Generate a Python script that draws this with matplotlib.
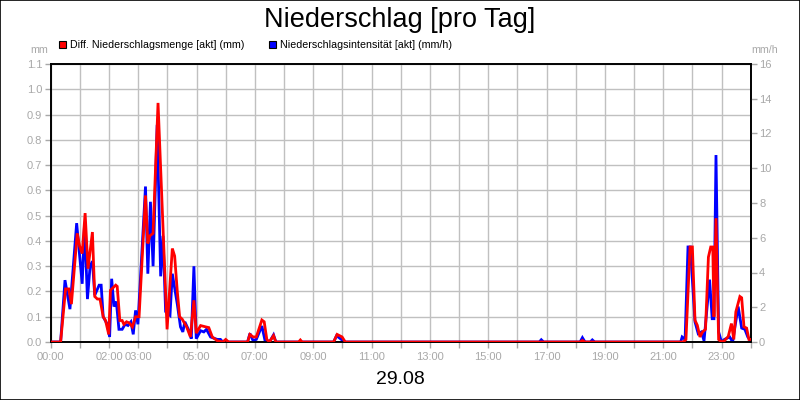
import matplotlib
matplotlib.use("Agg")
import matplotlib.pyplot as plt
from matplotlib.patches import Rectangle

plt.rcParams['font.family'] = ['Liberation Sans', 'DejaVu Sans']

# ---- data ----
red_t = [0, 0.34, 0.51, 0.62, 0.71, 0.91, 0.99, 1.08, 1.18, 1.28, 1.43, 1.51, 1.60, 1.69,
         1.80, 1.88, 1.99, 2.05, 2.23, 2.28, 2.37, 2.45, 2.51, 2.60, 2.70, 2.80, 2.91, 3.03,
         3.25, 3.33, 3.40, 3.51, 3.68, 3.99, 4.17, 4.25, 4.34, 4.42, 4.51, 4.66, 4.79, 4.91,
         4.99, 5.14, 5.31, 5.42, 5.54, 5.71, 5.90, 6.00, 6.10, 6.75, 6.83, 6.94, 7.05, 7.24,
         7.32, 7.41, 7.50, 7.64, 7.72, 8.50, 8.56, 8.62, 9.70, 9.82, 9.99, 10.10, 18.15, 18.23,
         18.32, 21.69, 21.78, 21.92, 22.00, 22.09, 22.17, 22.26, 22.35, 22.45, 22.55, 22.63,
         22.70, 22.74, 22.81, 22.90, 23.00, 23.10, 23.23, 23.34, 23.42, 23.49, 23.63, 23.69,
         23.77, 23.86, 23.94, 24.0]
red_mm = [0, 0, 0.21, 0.21, 0.15, 0.43, 0.38, 0.35, 0.51, 0.29, 0.435, 0.18, 0.17, 0.17,
          0.10, 0.085, 0.03, 0.205, 0.225, 0.22, 0.085, 0.085, 0.07, 0.08, 0.075, 0.06, 0.10, 0.10,
          0.58, 0.39, 0.42, 0.43, 0.946, 0.05, 0.37, 0.34, 0.20, 0.10, 0.09, 0.06, 0.02, 0.165,
          0.035, 0.065, 0.06, 0.057, 0.02, 0.005, 0, 0.01, 0, 0, 0.03, 0.02, 0.02, 0.087,
          0.08, 0.01, 0, 0.025, 0, 0, 0.008, 0, 0, 0.03, 0.02, 0, 0, 0.006,
          0, 0, 0.01, 0.376, 0.376, 0.086, 0.066, 0.02, 0.04, 0.05, 0.336, 0.376,
          0.376, 0.10, 0.49, 0.01, 0, 0.005, 0.022, 0.073, 0.01, 0.119, 0.18, 0.175,
          0.06, 0.055, 0.01, 0.01]

blue_t = [0, 0.34, 0.49, 0.66, 0.89, 1.08, 1.16, 1.26, 1.35, 1.43, 1.51, 1.66, 1.73, 1.80,
          1.94, 2.02, 2.09, 2.17, 2.25, 2.34, 2.45, 2.55, 2.65, 2.75, 2.83, 2.91, 2.99, 3.10,
          3.25, 3.33, 3.42, 3.51, 3.65, 3.77, 3.85, 3.94, 4.09, 4.17, 4.34, 4.45, 4.53, 4.60,
          4.74, 4.82, 4.91, 4.99, 5.14, 5.25, 5.34, 5.48, 5.71, 5.82, 5.90, 6.75, 6.83, 6.94,
          7.05, 7.24, 7.35, 7.50, 7.64, 7.72, 9.70, 9.80, 10.05, 10.10, 16.75, 16.82, 16.90,
          18.15, 18.23, 18.32, 18.50, 18.57, 18.65, 21.60, 21.65, 21.75, 21.85, 21.93, 22.09,
          22.20, 22.31, 22.40, 22.59, 22.68, 22.74, 22.81, 22.90, 23.00, 23.10, 23.28, 23.38,
          23.57, 23.69, 23.80, 23.90, 24.0]
blue_mmh = [0, 0, 3.56, 1.89, 6.84, 3.35, 6.84, 2.47, 4.36, 4.65, 2.69, 3.27, 3.27, 1.45,
            1.02, 0.29, 3.64, 2.04, 2.33, 0.73, 0.73, 1.02, 0.95, 1.16, 0.44, 1.82, 1.02, 4.36,
            8.95, 3.93, 8.07, 4.36, 12.5, 3.78, 6.11, 1.75, 1.53, 3.93, 2.18, 0.87, 0.58, 1.16,
            0.65, 0.19, 4.36, 0.19, 0.65, 0.58, 0.73, 0.29, 0.15, 0.15, 0, 0, 0.49, 0.07,
            0.15, 0.92, 0.07, 0, 0.41, 0, 0, 0.36, 0.04, 0, 0, 0.13, 0,
            0, 0.25, 0, 0, 0.12, 0, 0, 0.29, 0.15, 5.47, 5.47, 1.16,
            0.48, 0.58, 0.07, 3.59, 1.34, 1.34, 10.76, 0.58, 0, 0.15, 0.29, 0,
            2.04, 0.8, 0.73, 0.29, 0.07]

left_ticks = [0.0, 0.1, 0.2, 0.3, 0.4, 0.5, 0.6, 0.7, 0.8, 0.9, 1.0, 1.1]
right_ticks = [0, 2, 4, 6, 8, 10, 12, 14, 16]
hour_ticks = list(range(0, 25))
labelled_hours = [0, 2, 3, 5, 7, 9, 11, 13, 15, 17, 19, 21, 23]

title = "Niederschlag [pro Tag]"
label_red = "Diff. Niederschlagsmenge [akt] (mm)"
label_blue = "Niederschlagsintensität [akt] (mm/h)"
date_label = "29.08"

# ---- figure ----
GRAY = '#a8a8a8'
fig = plt.figure(figsize=(8, 4), dpi=100)
fig.patch.set_facecolor('white')
fig.patches.append(Rectangle((0.0006, 0.0012), 0.9988, 0.9976, transform=fig.transFigure,
                             fill=False, edgecolor='black', linewidth=1.2))

pos = [50.7 / 800, 58 / 400, 700 / 800, 278 / 400]
ax = fig.add_axes(pos)
ax.set_xlim(0, 24)
ax.set_ylim(0, 1.1)
ax.set_yticks(left_ticks)
ax.set_yticklabels([f"{v:.1f}" for v in left_ticks])
ax.set_xticks(hour_ticks)
ax.set_xticklabels([f"{h:02d}:00" if h in labelled_hours else "" for h in hour_ticks])
ax.grid(True, color='#c0c0c0', linewidth=1.0)
ax.set_axisbelow(True)
ax.tick_params(axis='both', colors=GRAY, labelcolor=GRAY, length=4, width=1,
               labelsize=8, pad=2)
ax.tick_params(axis='x', pad=3)
for s in ax.spines.values():
    s.set_color('black')
    s.set_linewidth(1.2)

ax2 = ax.twinx()
ax2.set_ylim(0, 16)
ax2.set_yticks(right_ticks)
ax2.tick_params(axis='y', colors=GRAY, labelcolor=GRAY, length=4, width=1,
                labelsize=8, pad=2)
for s in ax2.spines.values():
    s.set_color('black')
    s.set_linewidth(1.2)
ax2.plot(blue_t, blue_mmh, color='#0000ff', linewidth=2.0, solid_joinstyle='miter')

ax3 = ax.twinx()
ax3.set_ylim(0, 1.1)
ax3.set_yticks([])
for s in ax3.spines.values():
    s.set_visible(False)
ax3.plot(red_t, red_mm, color='#ff0000', linewidth=2.0, solid_joinstyle='miter')

# texts
fig.text(0.5, 1 - 27 / 400, title, ha='center', va='baseline', fontsize=19.5, color='black')
fig.text(69.5 / 800, 1 - 48 / 400, label_red, ha='left', va='baseline', fontsize=7.7, color='black')
fig.text(279.5 / 800, 1 - 48 / 400, label_blue, ha='left', va='baseline', fontsize=7.7, color='black')
fig.patches.append(Rectangle((58.5 / 800, 1 - 47.5 / 400), 7 / 800, 7 / 400,
                             transform=fig.transFigure, facecolor='#ff0000',
                             edgecolor='black', linewidth=0.8))
fig.patches.append(Rectangle((268.5 / 800, 1 - 47.5 / 400), 7 / 800, 7 / 400,
                             transform=fig.transFigure, facecolor='#0000ff',
                             edgecolor='black', linewidth=0.8))
fig.text(39.5 / 800, 1 - 53 / 400, "mm", ha='center', va='baseline', fontsize=7.7, color=GRAY)
fig.text(765 / 800, 1 - 53 / 400, "mm/h", ha='center', va='baseline', fontsize=7.7, color=GRAY)
fig.text(0.5, 1 - 384 / 400, date_label, ha='center', va='baseline', fontsize=14, color='black')

fig.savefig("out.png", dpi=100, facecolor='white')
